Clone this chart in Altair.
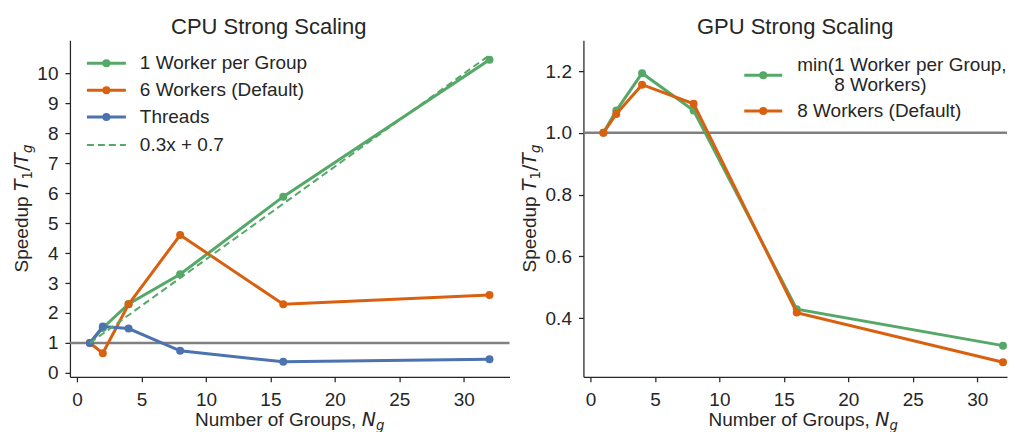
import altair as alt
import pandas as pd

# ---------------- data ----------------
groups = [1, 2, 4, 8, 16, 32]
cpu_one_worker = [1.0, 1.5, 2.3, 3.29, 5.88, 10.45]
cpu_six_workers = [1.0, 0.66, 2.29, 4.6, 2.29, 2.6]
cpu_threads = [1.0, 1.55, 1.48, 0.74, 0.37, 0.46]
fit_groups = [1, 32]
fit_speedup = [1.0, 10.6]
gpu_min_workers = [1.0, 1.072, 1.193, 1.072, 0.429, 0.311]
gpu_eight_workers = [1.0, 1.061, 1.156, 1.094, 0.418, 0.257]
baseline_speedup = [1.0]

x_ticks = [0, 5, 10, 15, 20, 25, 30]
cpu_y_ticks = [0, 1, 2, 3, 4, 5, 6, 7, 8, 9, 10]
gpu_y_ticks = [0.4, 0.6, 0.8, 1.0, 1.2]

cpu_labels = ["1 Worker per Group", "6 Workers (Default)", "Threads", "0.3x + 0.7"]
gpu_label_lines = ["min(1 Worker per Group,", "8 Workers)"]
gpu_default_label = "8 Workers (Default)"
titles = ["CPU Strong Scaling", "GPU Strong Scaling"]

# ---------------- style ----------------
GREEN = "#55a868"
ORANGE = "#d9600f"
BLUE = "#4c72b0"
GRAY = "#808080"
TEXT = "#262626"
SANS = "Liberation Sans"
MATH = "DejaVu Sans"
FS = 19

W_L, W_R, H = 440, 424, 337
PX_PER_UNIT = W_L / 34.1
XDOM_L = [-0.55, 33.55]
XDOM_R = [-0.55, -0.55 + W_R / PX_PER_UNIT]
YDOM_L = [-0.13, 11.1]
YDOM_R = [0.21, 1.30]

ONE = alt.Data(values=[{"k": 0}])

W_SANS = {"N": .722, "u": .556, "m": .833, "b": .556, "e": .556, "r": .333, " ": .278,
          "o": .556, "f": .278, "G": .778, "p": .556, "s": .5, ",": .278, "S": .667, "d": .556}
W_MATH = {"T": .611, "N": .748, "g": .635, "1": .636, "/": .337}


def width_of(s, kind, size):
    table = W_SANS if kind == "sans" else W_MATH
    return sum(table[c] for c in s) * size


def math_title(pieces, center, base, rotated):
    widths = [width_of(t, k, sz) for t, k, sz, sh in pieces]
    total = sum(widths)
    pos = center + total / 2 if rotated else center - total / 2
    out = []
    for (t, k, sz, sh), w in zip(pieces, widths):
        txt = t.strip()
        if txt:
            font = SANS if k == "sans" else MATH
            style = "italic" if k == "it" else "normal"
            m = alt.Chart(ONE).mark_text(text=txt, font=font, fontSize=sz, fontStyle=style,
                                         align="left", baseline="alphabetic",
                                         angle=270 if rotated else 0, color=TEXT)
            if rotated:
                out.append(m.encode(x=alt.value(base + sh), y=alt.value(pos)))
            else:
                out.append(m.encode(x=alt.value(pos), y=alt.value(base + sh)))
        pos = pos - w if rotated else pos + w
    return out


SUB = FS * 0.7
x_title_pieces = [("Number of Groups, ", "sans", FS, 0), ("N", "it", FS, 0), ("g", "it", SUB, 4.5)]
y_title_pieces = [("Speedup ", "sans", FS, 0), ("T", "it", FS, 0), ("1", "rm", SUB, 4),
                  ("/", "rm", FS, 0), ("T", "it", FS, 0), ("g", "it", SUB, 4)]


def legend_entry(x0, x1, y, color, dash=None, point=True):
    kw = dict(color=color, strokeWidth=3 if dash is None else 2)
    if dash is not None:
        kw["strokeDash"] = dash
    out = [alt.Chart(ONE).mark_rule(**kw).encode(x=alt.value(x0), x2=alt.value(x1), y=alt.value(y))]
    if point:
        out.append(alt.Chart(ONE).mark_circle(color=color, size=64, opacity=1)
                   .encode(x=alt.value((x0 + x1) / 2), y=alt.value(y)))
    return out


def legend_text(x, y, text):
    return alt.Chart(ONE).mark_text(text=text, font=SANS, fontSize=FS, color=TEXT,
                                    align="left", baseline="middle").encode(x=alt.value(x), y=alt.value(y))


def panel(series, xdom, ydom, yticks, yfmt, width, title, title_dx, ybase, extra):
    xenc = alt.X("Ng:Q", scale=alt.Scale(domain=xdom, nice=False, zero=False),
                 axis=alt.Axis(values=x_ticks, title=None, grid=False, labelFlush=False))
    yenc = alt.Y("S:Q", scale=alt.Scale(domain=ydom, nice=False, zero=False),
                 axis=alt.Axis(values=yticks, format=yfmt, title=None, grid=False, labelFlush=False))
    layers = [alt.Chart(pd.DataFrame({"S": baseline_speedup}))
              .mark_rule(color=GRAY, strokeWidth=2.5).encode(y=yenc)]
    for xs, ys, color, kind in series:
        df = pd.DataFrame({"Ng": xs, "S": ys})
        if kind == "dash":
            layers.append(alt.Chart(df).mark_line(color=color, strokeWidth=2, strokeDash=[7, 4])
                          .encode(x=xenc, y=yenc))
        else:
            layers.append(alt.Chart(df).mark_line(color=color, strokeWidth=3).encode(x=xenc, y=yenc))
            layers.append(alt.Chart(df).mark_circle(color=color, size=64, opacity=1)
                          .encode(x=xenc, y=yenc))
    layers += extra
    layers += math_title(x_title_pieces, 220, 386, False)
    layers += math_title(y_title_pieces, H / 2, ybase, True)
    return alt.layer(*layers).properties(
        width=width, height=H,
        title=alt.TitleParams(title, frame="group", anchor="middle", dx=title_dx, offset=-16,
                              baseline="alphabetic", fontSize=22, font=SANS,
                              fontWeight="normal", color=TEXT))


# invisible anchor that fixes the left extent of the whole figure
left_anchor = [alt.Chart(ONE).mark_rule(strokeOpacity=0, strokeWidth=1)
               .encode(x=alt.value(-62), x2=alt.value(-62), y=alt.value(150), y2=alt.value(160))]

left_legend = []
for (y, color, dash, pt, label) in [(23, GREEN, None, True, cpu_labels[0]),
                                    (50, ORANGE, None, True, cpu_labels[1]),
                                    (77, BLUE, None, True, cpu_labels[2]),
                                    (105, GREEN, [7, 4], False, cpu_labels[3])]:
    left_legend += legend_entry(17, 56, y, color, dash, pt)
    left_legend.append(legend_text(70, y, label))

right_legend = []
right_legend += legend_entry(161, 199, 35, GREEN)
right_legend.append(legend_text(214, 25, gpu_label_lines[0]))
right_legend.append(legend_text(251, 45, gpu_label_lines[1]))
right_legend += legend_entry(161, 199, 71, ORANGE)
right_legend.append(legend_text(214, 71, gpu_default_label))

left = panel([(groups, cpu_one_worker, GREEN, "line"),
              (groups, cpu_six_workers, ORANGE, "line"),
              (groups, cpu_threads, BLUE, "line"),
              (fit_groups, fit_speedup, GREEN, "dash")],
             XDOM_L, YDOM_L, cpu_y_ticks, "d", W_L, titles[0], -21, -41.5,
             left_legend + left_anchor)

right = panel([(groups, gpu_min_workers, GREEN, "line"),
               (groups, gpu_eight_workers, ORANGE, "line")],
              XDOM_R, YDOM_R, gpu_y_ticks, ".1f", W_R, titles[1], 0, -47, right_legend)

chart = alt.hconcat(left, right, spacing=74, bounds="flush").properties(
    padding={"left": 0, "top": 8, "right": 0, "bottom": 0}
).configure_view(stroke=None).configure_axis(
    domainColor=TEXT, domainWidth=1.25, tickColor=TEXT, tickWidth=1.25, tickSize=5,
    labelFont=SANS, labelFontSize=FS, labelColor=TEXT, grid=False
).configure_axisX(labelPadding=9).configure_axisY(labelPadding=7)

chart.save("out.html", embed_options={"renderer": "svg", "actions": False})
